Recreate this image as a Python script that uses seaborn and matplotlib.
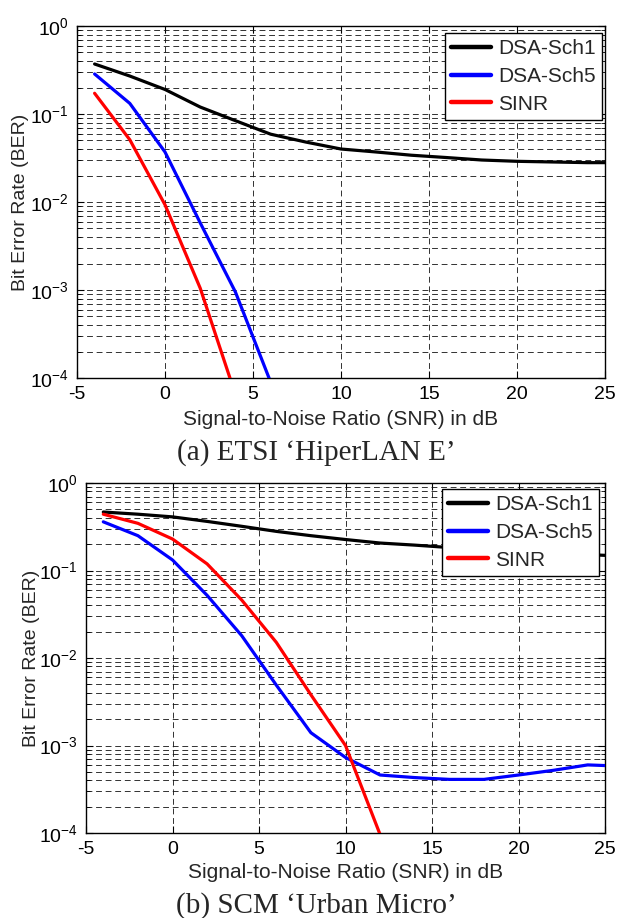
import numpy as np
import pandas as pd
import matplotlib
matplotlib.use("Agg")
import matplotlib.pyplot as plt
import seaborn as sns
from matplotlib.ticker import LogLocator, LogFormatterMathtext, NullFormatter, FixedLocator

# ---------------- data ----------------
series_names = ["DSA-Sch1", "DSA-Sch5", "SINR"]
series_colors = ["#000000", "#0000ff", "#ff0000"]

snr_long = [-4, -2, 0, 2, 4, 6, 8, 10, 12, 14, 16, 18, 20, 22, 24, 25]

# (a) ETSI 'HiperLAN E'
a_sch1 = [0.37, 0.27, 0.19, 0.12, 0.084, 0.059, 0.048, 0.040, 0.037, 0.034,
          0.032, 0.030, 0.029, 0.0285, 0.028, 0.028]
a_sch5_snr = [-4, -2, 0, 2, 4, 6]
a_sch5 = [0.285, 0.132, 0.037, 0.0058, 0.00095, 0.00009]
a_sinr_snr = [-4, -2, 0, 2, 4]
a_sinr = [0.172, 0.051, 0.0093, 0.00105, 0.000065]

# (b) SCM 'Urban Micro'
b_sch1 = [0.466, 0.44, 0.41, 0.364, 0.32, 0.28, 0.25, 0.226, 0.206, 0.195,
          0.183, 0.174, 0.166, 0.159, 0.152, 0.149]
b_sch5 = [0.36, 0.25, 0.132, 0.052, 0.018, 0.0049, 0.0014, 0.00073, 0.00046,
          0.00043, 0.00041, 0.00041, 0.00046, 0.00052, 0.00060, 0.00059]
b_sinr_snr = [-4, -2, 0, 2, 4, 6, 8, 10, 12]
b_sinr = [0.44, 0.346, 0.229, 0.119, 0.046, 0.0151, 0.0038, 0.0010, 0.000096]

x_ticks = [-5, 0, 5, 10, 15, 20, 25]
captions = ["(a) ETSI \u2018HiperLAN E\u2019", "(b) SCM \u2018Urban Micro\u2019"]
xlabel = "Signal-to-Noise Ratio (SNR) in dB"
ylabel = "Bit Error Rate (BER)"


def long_frame(parts):
    rows = []
    for name, xs, ys in parts:
        for x, y in zip(xs, ys):
            rows.append({"SNR": x, "BER": y, "Scheme": name})
    return pd.DataFrame(rows)


df_a = long_frame([(series_names[0], snr_long, a_sch1),
                   (series_names[1], a_sch5_snr, a_sch5),
                   (series_names[2], a_sinr_snr, a_sinr)])
df_b = long_frame([(series_names[0], snr_long, b_sch1),
                   (series_names[1], snr_long, b_sch5),
                   (series_names[2], b_sinr_snr, b_sinr)])

# ---------------- style ----------------
sns.set_style("white")
plt.rcParams["font.family"] = ["Liberation Sans", "DejaVu Sans"]
plt.rcParams["mathtext.default"] = "regular"
plt.rcParams["axes.unicode_minus"] = False
plt.rcParams["xtick.direction"] = "in"
plt.rcParams["ytick.direction"] = "in"

fig = plt.figure(figsize=(6.2, 9.18), dpi=100)
W, H = 620.0, 918.0

axes_px = [(77, 26, 605, 378), (86, 483, 605, 833)]
caption_y = [453, 906]
legend_px = [(602, 33), (599, 489)]
ylabel_right_px = [29, 40]

for i, (df, (l, t, r, b)) in enumerate(zip([df_a, df_b], axes_px)):
    ax = fig.add_axes([l / W, (H - b) / H, (r - l) / W, (b - t) / H])
    sns.lineplot(data=df, x="SNR", y="BER", hue="Scheme", hue_order=series_names,
                 palette=series_colors, linewidth=2.3, estimator=None, sort=False,
                 ax=ax, zorder=3)
    ax.set_yscale("log")
    ax.set_xlim(-5, 25)
    ax.set_ylim(1e-4, 1)
    ax.xaxis.set_major_locator(FixedLocator(x_ticks))
    ax.yaxis.set_major_locator(LogLocator(base=10, numticks=10))
    ax.yaxis.set_major_formatter(LogFormatterMathtext())
    ax.yaxis.set_minor_locator(LogLocator(base=10, subs=np.arange(2, 10), numticks=20))
    ax.yaxis.set_minor_formatter(NullFormatter())
    dash = (0, (7, 4.5))
    ax.grid(True, which="major", axis="both", color="#111111", linewidth=0.6, linestyle=dash)
    ax.grid(True, which="minor", axis="y", color="#111111", linewidth=0.6, linestyle=dash)
    ax.set_axisbelow(True)
    for sp in ax.spines.values():
        sp.set_color("black")
        sp.set_linewidth(1.0)
        sp.set_visible(True)
    ax.tick_params(which="both", top=True, right=True, left=True, bottom=True,
                   colors="black", labelsize=14)
    ax.tick_params(which="major", length=5, width=0.8, pad=6)
    ax.tick_params(which="minor", length=3, width=0.6)
    ax.set_xlabel(xlabel, fontsize=15, labelpad=5 if i == 0 else 3)
    ax.set_ylabel(ylabel, fontsize=14)
    ax.yaxis.set_label_coords((ylabel_right_px[i] - l) / (r - l), 0.5)
    lx, ly = legend_px[i]
    leg = ax.legend(loc="upper right", bbox_to_anchor=(lx / W, (H - ly) / H),
                    bbox_transform=fig.transFigure, fontsize=15, frameon=True,
                    fancybox=False, framealpha=1, edgecolor="black",
                    handlelength=1.9, handletextpad=0.35, borderpad=0.3,
                    labelspacing=0.42, borderaxespad=0)
    leg.get_frame().set_linewidth(1.0)
    for h in leg.get_lines():
        h.set_linewidth(3.2)
    leg.set_zorder(5)
    fig.text(316 / W, (H - caption_y[i]) / H, captions[i], ha="center", va="center",
             fontsize=21, family=["Liberation Serif", "DejaVu Serif"])

fig.savefig("out.png", dpi=100)
